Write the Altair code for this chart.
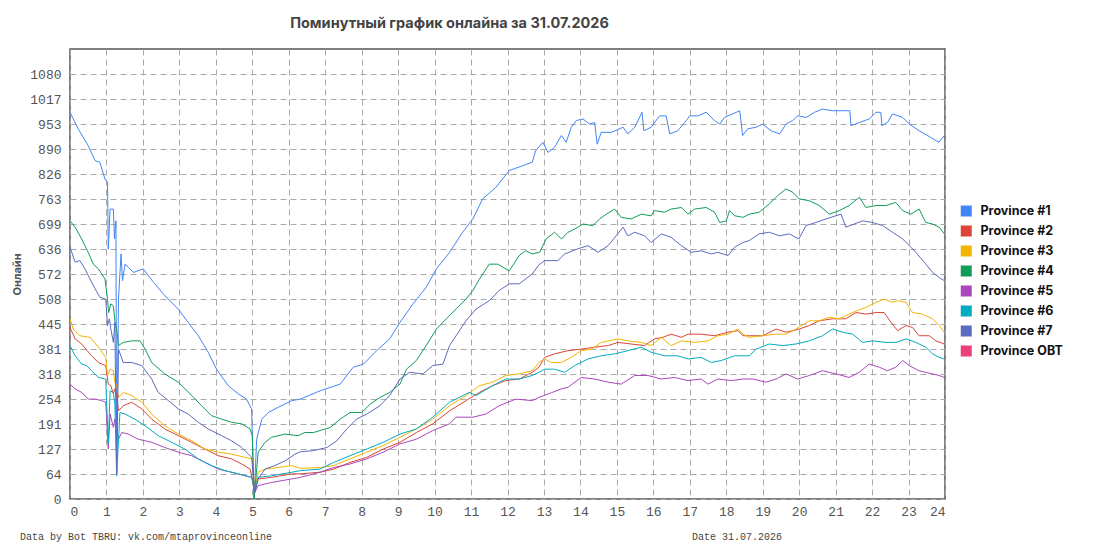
import altair as alt
import pandas as pd

TITLE = "Поминутный график онлайна за 31.07.2026"
Y_TITLE = "Онлайн"
FOOTER_LEFT = "Data by Bot TBRU: vk.com/mtaprovinceonline"
FOOTER_RIGHT = "Date 31.07.2026"

SERIES = ["Province #1", "Province #2", "Province #3", "Province #4",
          "Province #5", "Province #6", "Province #7", "Province OBT"]
COLORS = ["#4285F4", "#DB4437", "#F4B400", "#0F9D58",
          "#AB47BC", "#00ACC1", "#5C6BC0", "#EC407A"]

X_TICKS = list(range(0, 25))
Y_TICKS = [0, 63.55, 127.1, 190.65, 254.2, 317.75, 381.3, 444.85, 508.4,
           571.95, 635.5, 699.05, 762.6, 826.15, 889.7, 953.25, 1016.8, 1080.35]
Y_MAX = 1143.9

# (hour, online) readings per series
P1 = [(0,983),(0.23,940),(0.5,898),(0.69,860),(0.82,856),(0.96,813),(1.03,805),(1.05,635),(1.1,737),
      (1.19,737),(1.22,661),(1.26,707),(1.28,65),(1.33,508),(1.40,623),(1.44,555),(1.51,597),(1.6,589),
      (1.74,576),(2.01,585),(2.29,551),(2.6,517),(2.97,483),(3.24,449),(3.52,415),(3.79,373),(4.02,330),
      (4.34,288),(4.62,267),(4.84,254),(4.98,229),(5.05,0),(5.12,152),(5.26,203),(5.44,220),(5.71,233),
      (6.08,250),(6.32,254),(6.86,275),(7.41,292),(7.77,335),(8.05,343),(8.41,377),(8.77,407),(9.05,449),
      (9.41,496),(9.77,538),(10.05,585),(10.41,627),(10.77,678),(11.05,712),(11.32,763),(11.68,792),
      (12.05,835),(12.41,847),(12.68,856),(12.77,885),(12.97,907),(13.11,881),(13.29,894),(13.48,924),
      (13.61,907),(13.75,945),(13.89,962),(14.07,966),(14.25,953),(14.39,957),(14.46,902),(14.57,932),
      (14.85,932),(15.17,945),(15.3,928),(15.49,945),(15.69,983),(15.74,936),(15.94,945),(16.17,974),
      (16.35,974),(16.45,928),(16.67,936),(16.86,957),(17.0,974),(17.22,974),(17.45,983),(17.68,962),
      (17.82,953),(17.95,970),(18.18,979),(18.37,987),(18.45,924),(18.59,941),(18.82,945),(19.0,953),
      (19.23,936),(19.46,928),(19.64,953),(19.82,962),(19.96,974),(20.19,970),(20.42,983),(20.64,991),
      (20.92,987),(21.19,987),(21.39,987),(21.42,949),(21.65,957),(21.92,966),(22.11,983),(22.24,983),
      (22.27,949),(22.42,957),(22.56,979),(22.84,970),(23.02,953),(23.29,936),(23.52,924),(23.75,911),
      (23.84,907),(23.98,924)]

P2 = [(0,436),(0.14,407),(0.32,394),(0.59,364),(0.78,347),(0.98,339),(1.05,292),(1.12,288),(1.19,267),
      (1.23,280),(1.28,260),(1.33,224),(1.46,237),(1.69,246),(1.97,229),(2.24,203),(2.6,178),(2.97,161),
      (3.34,144),(3.7,127),(4.07,110),(4.43,102),(4.71,89),(4.94,76),(5.07,21),(5.16,51),(5.53,55),
      (6.08,64),(6.32,64),(6.86,68),(7.23,76),(7.68,93),(8.14,106),(8.59,127),(9.05,144),(9.5,169),
      (9.95,191),(10.41,224),(10.86,250),(11.23,271),(11.59,288),(11.95,301),(12.32,305),(12.68,322),
      (12.86,335),(13.02,360),(13.29,369),(13.66,377),(14.02,381),(14.39,386),(14.76,390),(15.03,398),
      (15.39,394),(15.76,390),(16.03,407),(16.26,411),(16.49,419),(16.77,411),(16.95,419),(17.31,419),
      (17.68,415),(18.05,424),(18.32,428),(18.46,415),(18.63,415),(19.0,415),(19.37,432),(19.64,424),
      (20.0,432),(20.28,441),(20.55,453),(20.92,458),(21.28,458),(21.56,474),(21.83,470),(22.11,474),
      (22.33,474),(22.52,449),(22.7,428),(22.93,441),(23.11,436),(23.29,415),(23.57,415),(23.75,402),
      (23.98,394)]

P3 = [(0,458),(0.09,432),(0.27,415),(0.55,411),(0.78,386),(0.98,360),(1.03,314),(1.1,330),(1.19,326),
      (1.23,297),(1.28,290),(1.33,258),(1.46,271),(1.69,263),(1.97,246),(2.24,216),(2.6,186),(2.97,165),
      (3.34,148),(3.7,127),(4.07,119),(4.43,114),(4.8,106),(5.0,102),(5.07,25),(5.16,68),(5.35,76),
      (5.71,80),(6.08,85),(6.32,78),(6.86,80),(7.23,85),(7.68,102),(8.14,119),(8.59,136),(9.05,157),
      (9.5,178),(9.95,203),(10.41,237),(10.86,263),(11.23,288),(11.59,297),(11.95,314),(12.32,318),
      (12.68,326),(12.86,347),(13.02,356),(13.2,347),(13.48,347),(13.75,360),(14.02,377),(14.3,381),
      (14.57,398),(15.03,407),(15.3,402),(15.67,398),(15.94,390),(16.22,411),(16.49,390),(16.77,402),
      (17.13,398),(17.5,402),(17.77,415),(18.05,419),(18.32,432),(18.46,419),(18.63,411),(19.0,415),
      (19.37,419),(19.64,419),(19.91,432),(20.28,453),(20.55,453),(20.83,462),(21.1,458),(21.37,470),
      (21.6,479),(21.83,487),(22.11,500),(22.33,508),(22.56,500),(22.7,504),(22.93,500),(23.11,474),
      (23.38,470),(23.66,458),(23.84,441),(23.98,424)]

P4 = [(0,707),(0.14,691),(0.32,661),(0.5,627),(0.64,597),(0.78,585),(0.96,559),(1.03,508),(1.06,474),
      (1.12,496),(1.19,491),(1.23,453),(1.28,430),(1.33,390),(1.46,398),(1.69,402),(1.92,402),(2.06,381),
      (2.24,347),(2.6,318),(2.97,297),(3.34,263),(3.61,237),(3.88,212),(4.16,203),(4.43,195),(4.71,191),
      (4.94,178),(5.0,161),(5.05,0),(5.16,119),(5.35,144),(5.53,157),(5.9,165),(6.26,161),(6.44,169),
      (6.68,169),(7.14,182),(7.41,203),(7.68,220),(8.0,220),(8.23,241),(8.5,258),(8.77,271),(9.05,292),
      (9.23,330),(9.5,352),(9.77,390),(10.05,432),(10.32,458),(10.59,483),(10.86,508),(11.05,530),
      (11.23,559),(11.5,597),(11.73,597),(12.05,580),(12.32,619),(12.5,631),(12.68,623),(12.88,627),
      (13.06,661),(13.29,678),(13.48,661),(13.66,678),(13.84,686),(14.07,699),(14.34,695),(14.53,712),
      (14.71,724),(14.94,737),(15.12,716),(15.39,712),(15.67,724),(15.94,720),(16.03,733),(16.31,729),
      (16.49,737),(16.77,741),(16.95,724),(17.13,737),(17.45,741),(17.68,729),(17.82,703),(18.0,707),
      (18.09,733),(18.23,720),(18.46,716),(18.63,724),(18.9,729),(19.18,750),(19.41,771),(19.64,788),
      (19.82,780),(20.0,763),(20.28,758),(20.55,746),(20.83,724),(21.1,733),(21.37,746),(21.65,767),
      (21.83,741),(22.11,746),(22.38,746),(22.65,754),(22.84,733),(23.06,724),(23.29,737),(23.47,703),
      (23.66,699),(23.84,691),(23.98,674)]

P5 = [(0,292),(0.14,280),(0.32,271),(0.5,254),(0.69,254),(0.87,250),(0.98,246),(1.05,127),(1.1,216),
      (1.19,182),(1.23,203),(1.28,175),(1.33,152),(1.42,169),(1.6,165),(1.87,152),(2.24,144),(2.6,131),
      (2.97,119),(3.34,110),(3.7,93),(4.07,76),(4.43,68),(4.8,59),(5.0,55),(5.07,17),(5.16,34),(5.53,42),
      (6.08,51),(6.32,55),(6.86,68),(7.23,80),(7.68,89),(8.14,102),(8.59,119),(9.05,140),(9.5,152),
      (9.95,174),(10.41,191),(10.59,208),(11.05,208),(11.41,216),(11.77,237),(12.23,254),(12.68,250),
      (12.86,258),(13.2,270),(13.48,280),(13.66,284),(14.02,309),(14.39,305),(14.76,297),(15.12,292),
      (15.49,314),(15.85,314),(16.22,305),(16.58,309),(16.95,301),(17.31,305),(17.5,292),(17.77,305),
      (18.14,301),(18.46,305),(18.73,305),(19.09,297),(19.37,305),(19.64,318),(19.96,305),(20.28,314),
      (20.64,326),(21.01,318),(21.37,309),(21.65,322),(21.92,343),(22.2,335),(22.42,326),(22.65,335),
      (22.84,352),(23.02,339),(23.29,326),(23.47,322),(23.84,314),(23.98,309)]

P6 = [(0,390),(0.14,364),(0.32,343),(0.46,339),(0.59,326),(0.78,309),(0.98,305),(1.05,140),(1.1,275),
      (1.19,271),(1.23,241),(1.28,59),(1.37,220),(1.51,216),(1.78,203),(2.06,186),(2.42,161),(2.79,144),
      (3.15,127),(3.52,102),(3.88,85),(4.25,72),(4.62,64),(4.98,55),(5.07,21),(5.16,55),(5.53,59),
      (6.08,68),(6.32,72),(6.86,76),(7.23,93),(7.68,110),(8.14,127),(8.59,144),(9.05,165),(9.5,178),
      (9.95,208),(10.41,246),(10.95,271),(11.14,263),(11.59,288),(11.95,305),(12.32,305),(12.68,314),
      (12.86,322),(13.02,330),(13.29,330),(13.57,322),(13.84,339),(14.21,356),(14.57,364),(14.94,369),
      (15.3,377),(15.67,386),(15.94,373),(16.31,364),(16.67,364),(16.95,356),(17.31,360),(17.59,347),
      (17.86,352),(18.23,364),(18.46,364),(18.63,364),(18.82,381),(19.18,394),(19.55,390),(19.91,394),
      (20.28,402),(20.64,415),(20.92,432),(21.19,424),(21.47,419),(21.74,398),(22.01,402),(22.38,398),
      (22.65,398),(22.93,407),(23.2,398),(23.47,386),(23.66,369),(23.84,360),(23.98,356)]

P7 = [(0,640),(0.14,602),(0.27,606),(0.41,585),(0.55,559),(0.69,534),(0.82,513),(0.98,508),(1.03,441),
      (1.08,458),(1.12,432),(1.19,398),(1.23,449),(1.28,62),(1.33,381),(1.46,347),(1.69,347),(1.97,339),
      (2.24,305),(2.42,271),(2.7,250),(2.97,229),(3.24,216),(3.52,195),(3.79,178),(4.16,161),(4.43,148),
      (4.71,131),(4.98,106),(5.07,17),(5.16,51),(5.35,76),(5.62,85),(5.9,97),(6.17,114),(6.32,120),
      (6.68,123),(7.05,131),(7.32,148),(7.59,178),(7.86,203),(8.14,216),(8.5,237),(8.77,263),(9.05,305),
      (9.32,322),(9.68,318),(9.95,339),(10.23,343),(10.41,390),(10.59,415),(10.86,453),(11.14,483),
      (11.5,504),(11.77,530),(12.05,547),(12.32,547),(12.68,572),(12.86,595),(13.02,606),(13.38,606),
      (13.57,623),(13.93,636),(14.21,644),(14.48,627),(14.76,644),(14.98,669),(15.17,691),(15.3,669),
      (15.49,678),(15.76,669),(15.94,652),(16.22,674),(16.49,665),(16.77,644),(17.04,627),(17.31,631),
      (17.59,623),(17.77,627),(18.05,619),(18.23,640),(18.46,652),(18.63,657),(18.9,674),(19.18,678),
      (19.46,669),(19.73,674),(19.99,661),(20.19,695),(20.46,703),(20.74,712),(21.01,720),(21.15,724),
      (21.28,691),(21.51,699),(21.74,707),(22.01,703),(22.29,695),(22.56,678),(22.84,661),(23.02,644),
      (23.2,627),(23.43,602),(23.66,576),(23.84,563),(23.98,555)]

rows = []
for name, pts in zip(SERIES, [P1, P2, P3, P4, P5, P6, P7]):
    for h, v in pts:
        rows.append({"series": name, "hour": h, "online": v})
df = pd.DataFrame(rows)

lines = alt.Chart(df).mark_line(strokeWidth=1, clip=True).encode(
    x=alt.X("hour:Q",
            scale=alt.Scale(domain=[0, 24], nice=False, zero=False),
            axis=alt.Axis(values=X_TICKS, title=None, labelPadding=6, format="d")),
    y=alt.Y("online:Q",
            scale=alt.Scale(domain=[0, Y_MAX], nice=False),
            axis=alt.Axis(values=Y_TICKS, title=Y_TITLE, labelPadding=9,
                          labelExpr="round(datum.value)",
                          titleFont="Inter", titleFontSize=11, titleFontWeight="bold",
                          titleColor="#555", titlePadding=7)),
    color=alt.Color("series:N",
                    scale=alt.Scale(domain=SERIES, range=COLORS),
                    legend=alt.Legend(title=None, orient="none", legendX=890, legendY=152,
                                      symbolType="square", symbolSize=25, symbolStrokeWidth=6,
                                      labelFont="Inter", labelFontSize=12.5, labelFontWeight="bold",
                                      labelColor="#111", clipHeight=20, rowPadding=0,
                                      labelOffset=8, padding=0)),
    order=alt.Order("hour:Q"),
)

foot_l = alt.Chart(pd.DataFrame({"t": [FOOTER_LEFT]})).mark_text(
    align="left", baseline="middle", font="Liberation Mono", fontSize=10, color="#444"
).encode(x=alt.value(-50), y=alt.value(488), text="t:N")

foot_r = alt.Chart(pd.DataFrame({"t": [FOOTER_RIGHT]})).mark_text(
    align="left", baseline="middle", font="Liberation Mono", fontSize=10, color="#444"
).encode(x=alt.value(622), y=alt.value(488), text="t:N")

chart = alt.layer(lines, foot_l, foot_r).properties(
    width=875, height=450,
    autosize=alt.AutoSizeParams(type="none"),
    padding={"left": 62, "top": 41, "right": 140, "bottom": 55},
    title=alt.Title(TITLE, font="Inter", fontSize=14.5, fontWeight="bold", color="#444",
                    anchor="middle", frame="group", dx=-58, offset=18),
).configure_view(
    stroke="#555", strokeWidth=1.5
).configure_axis(
    domain=False, ticks=False, grid=True, gridColor="#aaa", gridDash=[6, 4], gridWidth=1,
    labelFont="Liberation Mono", labelFontSize=13, labelColor="#555"
)

chart.save("out.html", embed_options={"renderer": "svg", "actions": False})
